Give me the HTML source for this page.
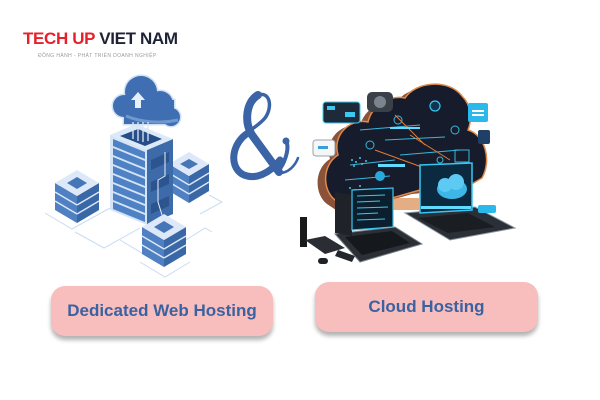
<!DOCTYPE html>
<html><head><meta charset="utf-8"><style>
html,body{margin:0;padding:0;background:#fff;}
#c{position:relative;width:600px;height:400px;overflow:hidden;background:#fff;font-family:"Liberation Sans",Arial,sans-serif;}
.t{position:absolute;left:23px;top:30px;font-size:17px;line-height:17px;font-weight:bold;letter-spacing:-0.35px;white-space:nowrap;}
.t .r{color:#e8202a}.t .d{color:#1f2236}
.s{position:absolute;left:38px;top:53px;font-size:5px;line-height:6px;letter-spacing:0.4px;color:#9a9a9a;white-space:nowrap;}
.b{position:absolute;background:#f8bdbd;border-radius:14px;box-shadow:0 4px 4px rgba(0,0,0,0.3);display:flex;align-items:center;justify-content:center;color:#3a62a0;font-weight:bold;font-size:17px;}
svg{position:absolute;left:0;top:0;}
</style></head><body><div id="c">
<svg width="600" height="400" viewBox="0 0 600 400">
<!-- connection lines -->
<g stroke="#c9dcf1" stroke-width="1" fill="none">
<polyline points="45,213 72,229 110,208"/>
<polyline points="75,232 104,248 140,228"/>
<polyline points="120,240 150,258"/>
<polyline points="140,262 165,277 190,262"/>
<polyline points="186,240 205,228 212,232"/>
<polyline points="209,195 222,202 200,214"/>
</g>
<!-- right back stack -->
<polygon points="169,164 189,176 189,203 169,191" fill="#4e80c2"/>
<polygon points="189,176 209,164 209,191 189,203" fill="#3a67a6"/>
<g stroke="#dbe8f7" stroke-width="1.5"><line x1="169" y1="173" x2="189" y2="185"/><line x1="169" y1="182" x2="189" y2="194"/><line x1="189" y1="185" x2="209" y2="173"/><line x1="189" y1="194" x2="209" y2="182"/></g>
<polygon points="169,164 189,152 209,164 189,176" fill="#dde9f8"/>
<polygon points="180,164 189,159 198,164 189,169" fill="#4576b8"/>
<!-- tower -->
<polygon points="110,135 147,150 147,225 110,210" fill="#d5e4f6"/>
<g fill="#4f82c4">
<polygon points="113,139 145,152 145,159 113,146"/>
<polygon points="113,148 145,161 145,168 113,155"/>
<polygon points="113,157 145,170 145,177 113,164"/>
<polygon points="113,166 145,179 145,186 113,173"/>
<polygon points="113,175 145,188 145,195 113,182"/>
<polygon points="113,184 145,197 145,204 113,191"/>
<polygon points="113,193 145,206 145,213 113,200"/>
<polygon points="113,202 145,215 145,222 113,209"/>
</g>
<polygon points="147,150 173,139 173,214 147,225" fill="#3d6aa8"/>
<g fill="#2c5590">
<polygon points="151,160 169,152 169,162 151,170"/>
<polygon points="151,182 169,174 169,184 151,192"/>
<polygon points="151,204 169,196 169,206 151,214"/>
</g>
<polyline points="165,152 165,176 158,180 158,202 162,215" stroke="#e6f0fb" stroke-width="1" fill="none"/>
<polygon points="110,135 136,124 173,139 147,150" fill="#dce9f8"/>
<polygon points="120,136 138,129 162,139 145,146" fill="#284e8a"/>
<!-- cloud -->
<g fill="#cfe0f4" stroke="#cfe0f4" stroke-width="3">
<circle cx="141" cy="92" r="16"/><circle cx="124" cy="106" r="11"/><circle cx="160" cy="104" r="13"/><circle cx="171" cy="117" r="9"/><rect x="124" y="100" width="50" height="24"/>
</g>
<g fill="#3f6fb2">
<circle cx="141" cy="92" r="16"/><circle cx="124" cy="106" r="11"/><circle cx="160" cy="104" r="13"/><circle cx="171" cy="117" r="9"/><rect x="124" y="100" width="50" height="24"/>
</g>
<path d="M126,116 C140,122 160,124 178,120" stroke="#6f98d0" stroke-width="3" fill="none"/>
<polygon points="138,92 145,100 141,100 141,108 135,108 135,100 131,100" fill="#e6f0fb"/>
<g stroke="#dbe8f7" stroke-width="1.3">
<line x1="133" y1="122" x2="133" y2="139"/><line x1="138" y1="122" x2="138" y2="141"/><line x1="143" y1="122" x2="143" y2="142"/><line x1="148" y1="122" x2="148" y2="141"/>
</g>
<!-- left stack -->
<polygon points="55,183 77,196 77,223 55,210" fill="#4e80c2"/>
<polygon points="77,196 99,183 99,210 77,223" fill="#3a67a6"/>
<g stroke="#dbe8f7" stroke-width="1.5"><line x1="55" y1="192" x2="77" y2="205"/><line x1="55" y1="201" x2="77" y2="214"/><line x1="77" y1="205" x2="99" y2="192"/><line x1="77" y1="214" x2="99" y2="201"/></g>
<polygon points="55,183 77,170 99,183 77,196" fill="#dde9f8"/>
<polygon points="67,183 77,177 87,183 77,189" fill="#4576b8"/>
<!-- front stack -->
<polygon points="142,227 164,240 164,267 142,254" fill="#4e80c2"/>
<polygon points="164,240 186,227 186,254 164,267" fill="#3a67a6"/>
<g stroke="#dbe8f7" stroke-width="1.5"><line x1="142" y1="236" x2="164" y2="249"/><line x1="142" y1="245" x2="164" y2="258"/><line x1="164" y1="249" x2="186" y2="236"/><line x1="164" y1="258" x2="186" y2="245"/></g>
<polygon points="142,227 164,214 186,227 164,240" fill="#dde9f8"/>
<polygon points="154,227 164,221 174,227 164,233" fill="#4576b8"/>

<!-- ampersand -->
<g fill="none" stroke="#3a64a6" stroke-linecap="round">
<path d="M258,95 C246,102 244,122 252,135 L279,172" stroke-width="8"/>
<path d="M258,95 C270,91 273,107 265,118 C259,125 252,129 246,133" stroke-width="3.5"/>
<path d="M248,133 C233,142 228,165 242,174 C255,181 270,173 280,160" stroke-width="7"/>
<path d="M279,170 C284,164 289,151 287,143" stroke-width="4"/>
<path d="M280,173 C288,173 295,166 298,158" stroke-width="2.5"/>
</g>
<circle cx="286" cy="141" r="3.5" fill="#3a64a6"/>

<!-- right cloud image -->
<path d="M335,200 C322,190 322,165 338,155 C332,135 350,118 368,122 C372,105 390,95 405,98 C415,82 448,78 462,96 C472,106 472,120 468,130 C485,135 492,160 482,178 L470,185 L420,190 L350,210 Z" fill="#8a5238" transform="translate(-8,4)"/>
<path d="M335,200 C322,190 322,165 338,155 C332,135 350,118 368,122 C372,105 390,95 405,98 C415,82 448,78 462,96 C472,106 472,120 468,130 C485,135 492,160 482,178 L470,185 L420,190 L350,210 Z" fill="#161c2b" stroke="#e08a4c" stroke-width="1.5"/>
<g stroke="#3cc8f0" stroke-width="1" fill="none" opacity="0.9">
<line x1="360" y1="130" x2="420" y2="125"/><line x1="385" y1="140" x2="445" y2="137"/><line x1="400" y1="155" x2="460" y2="150"/>
<line x1="350" y1="165" x2="395" y2="160"/><line x1="345" y1="180" x2="390" y2="176"/>
<circle cx="398" cy="120" r="4"/><circle cx="455" cy="130" r="4"/><circle cx="370" cy="145" r="4"/><circle cx="440" cy="160" r="3"/>
<rect x="455" y="150" width="14" height="12"/>
</g>
<g stroke="#e07b39" stroke-width="1" fill="none">
<line x1="375" y1="150" x2="430" y2="170"/><line x1="410" y1="135" x2="450" y2="160"/><line x1="395" y1="115" x2="425" y2="145"/>
</g>
<circle cx="435" cy="106" r="5" fill="#0d3550" stroke="#3cc8f0" stroke-width="1.2"/>
<circle cx="380" cy="176" r="5" fill="#2aa8dc"/>
<rect x="378" y="164" width="27" height="3" fill="#5fdcff"/>
<rect x="390" y="127" width="30" height="2" fill="#5fdcff"/>
<g fill="#49c3ea"><circle cx="352" cy="160" r="1"/><circle cx="356" cy="162" r="1"/><circle cx="360" cy="158" r="1"/><circle cx="354" cy="166" r="1"/><circle cx="362" cy="164" r="1"/><circle cx="366" cy="161" r="1"/><circle cx="350" cy="188" r="1"/><circle cx="355" cy="190" r="1"/><circle cx="360" cy="186" r="1"/></g>
<!-- floating panels -->
<rect x="323" y="102" width="37" height="21" rx="3" fill="#1c2a3a" stroke="#3cc8f0" stroke-width="1"/>
<rect x="327" y="106" width="8" height="4" fill="#3cc8f0"/><rect x="345" y="112" width="10" height="5" fill="#3cc8f0"/>
<rect x="313" y="140" width="22" height="16" rx="3" fill="#f4f6f8" stroke="#9aa3ad" stroke-width="1"/>
<rect x="318" y="146" width="10" height="3" fill="#3a9fd6"/>
<rect x="367" y="92" width="26" height="20" rx="5" fill="#3a3f48"/>
<circle cx="380" cy="102" r="6" fill="#7a838e"/>
<rect x="468" y="103" width="20" height="19" rx="2" fill="#2bb8ea"/>
<rect x="472" y="110" width="12" height="2" fill="#fff"/><rect x="472" y="114" width="12" height="2" fill="#fff"/>
<rect x="478" y="130" width="12" height="14" rx="2" fill="#1f3f66"/>
<!-- right laptop -->
<polygon points="405,213 475,207 515,228 450,240" fill="#2a2f38" stroke="#8d949c" stroke-width="1"/>
<polygon points="418,218 468,213 495,227 448,233" fill="#1a1d22"/>
<polygon points="420,165 472,163 472,210 420,213" fill="#0b2a40" stroke="#39c6f0" stroke-width="1.5"/>
<ellipse cx="452" cy="189" rx="15" ry="10" fill="#3fb6e8"/>
<circle cx="445" cy="185" r="7" fill="#5ccaf2"/><circle cx="456" cy="182" r="8" fill="#5ccaf2"/>
<rect x="421" y="206" width="50" height="3" fill="#5fdcff"/>
<rect x="478" y="205" width="18" height="8" rx="2" fill="#2bb8ea"/>
<!-- glow between -->
<rect x="393" y="198" width="26" height="12" fill="#d98a50" opacity="0.7"/>
<!-- left laptop -->
<polygon points="335,234 395,227 422,244 360,262" fill="#2b2f36" stroke="#7d848c" stroke-width="1"/>
<polygon points="345,237 392,231 410,243 362,255" fill="#15181c"/>
<polygon points="335,192 352,195 352,236 335,233" fill="#1f2329"/>
<polygon points="352,190 393,188 393,227 352,230" fill="#0c1f2e" stroke="#39c6f0" stroke-width="1.2"/>
<g stroke="#3cc8f0" stroke-width="1"><line x1="357" y1="196" x2="385" y2="195"/><line x1="357" y1="202" x2="380" y2="201"/><line x1="357" y1="208" x2="388" y2="207"/><line x1="357" y1="214" x2="378" y2="213"/><line x1="357" y1="220" x2="385" y2="219"/></g>
<!-- peripherals -->
<rect x="300" y="217" width="7" height="30" fill="#1a1a1a"/>
<polygon points="305,240 325,236 345,248 325,254" fill="#2a2d33"/>
<rect x="318" y="258" width="10" height="6" rx="3" fill="#1f2226"/>
<polygon points="338,250 355,256 352,262 335,256" fill="#23262b"/>
</svg>
<div class="t"><span class="r">TECH UP</span> <span class="d">VIET NAM</span></div>
<div class="s">ĐỒNG HÀNH - PHÁT TRIỂN DOANH NGHIỆP</div>
<div class="b" style="left:51px;top:286px;width:222px;height:50px;">Dedicated Web Hosting</div>
<div class="b" style="left:315px;top:282px;width:223px;height:50px;">Cloud Hosting</div>
</div></body></html>
